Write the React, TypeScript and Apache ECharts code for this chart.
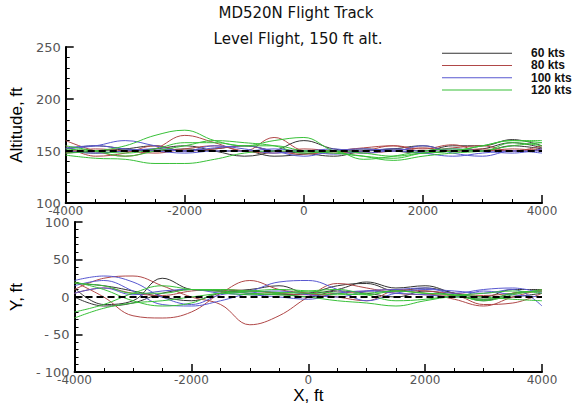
import React, { useEffect, useRef } from "react";
import * as echarts from "echarts";

const X_POS = [-4000, -3500, -3000, -2500, -2000, -1500, -1000, -500, 0, 500, 1000, 1500, 2000, 2500, 3000, 3500, 4000];
const SPEEDS = ["60 kts", "80 kts", "100 kts", "120 kts"];
const COLORS = ["#333333", "#b04848", "#5858d0", "#38c038"];
const X_TICKS = [-4000, -2000, 0, 2000, 4000];

// Altitude runs (ft) per speed
const ALT_60 = [
  [150, 148, 150, 152, 155, 150, 145, 150, 160, 152, 150, 152, 150, 155, 155, 161, 155],
  [152, 155, 152, 150, 152, 150, 150, 145, 147, 150, 152, 150, 148, 150, 152, 158, 153],
  [148, 150, 152, 155, 150, 152, 155, 150, 148, 145, 150, 152, 155, 150, 150, 155, 152],
];
const ALT_80 = [
  [160, 150, 145, 152, 165, 158, 150, 163, 150, 148, 150, 155, 150, 153, 155, 150, 155],
  [155, 145, 148, 155, 150, 152, 155, 150, 147, 150, 153, 155, 152, 156, 150, 152, 150],
  [148, 152, 150, 148, 152, 155, 150, 148, 152, 150, 148, 150, 153, 150, 152, 150, 152],
];
const ALT_100 = [
  [152, 155, 160, 155, 150, 153, 155, 150, 145, 150, 152, 150, 155, 148, 145, 150, 150],
  [150, 148, 150, 152, 150, 155, 152, 148, 150, 147, 150, 152, 150, 152, 150, 148, 152],
  [153, 155, 152, 150, 148, 150, 150, 152, 150, 152, 148, 150, 148, 145, 148, 150, 148],
];
const ALT_120 = [
  [148, 150, 155, 165, 170, 160, 155, 155, 150, 148, 145, 143, 148, 150, 155, 160, 158],
  [146, 143, 142, 138, 138, 142, 148, 150, 150, 150, 148, 145, 148, 150, 155, 160, 160],
  [152, 150, 148, 152, 158, 158, 155, 160, 163, 150, 145, 141, 145, 148, 150, 155, 158],
  [155, 150, 145, 150, 155, 160, 158, 155, 148, 150, 142, 145, 150, 152, 150, 158, 155],
];
const ALT_TARGET = 150;

// Lateral offset runs (ft) per speed
const Y_60 = [
  [12, -10, -5, 25, 10, 8, 5, 3, 5, 15, 18, 8, 12, 5, -5, 5, 8],
  [0, -12, -8, 5, 10, 8, 10, 15, 5, 10, 20, 12, 15, 5, 0, 10, 10],
  [18, 15, 8, 0, -5, 5, 8, 5, 0, 8, 5, 0, 8, 2, -3, 0, 5],
];
const Y_80 = [
  [10, 25, 28, 15, 0, -10, -37, -25, 0, 18, 12, 5, 3, 2, -10, -8, 5],
  [20, 0, -25, -28, -20, 5, 22, 10, 5, 0, -5, 8, 5, -3, -12, 0, 10],
  [5, 12, 5, 2, 8, 10, 8, 5, 3, 5, 8, 10, 8, 5, 2, 5, 8],
];
const Y_100 = [
  [22, 28, 20, 0, -10, 3, 8, 20, 22, 10, -5, 5, 10, 8, 5, 10, -12],
  [15, 22, 8, -10, -12, -5, 5, 8, 3, 0, 8, 10, 12, 5, 10, 12, 5],
  [5, 12, 3, 8, 10, 5, 3, 0, -3, 5, 8, 5, 3, 0, 8, 3, 0],
];
const Y_120 = [
  [-28, -15, -8, -5, 0, 5, 8, 10, 8, 5, 3, 8, 5, 3, 0, -3, -5],
  [-20, -10, 5, 15, 10, 8, 5, 3, 0, -5, -8, -12, -5, 0, -3, 5, 8],
  [18, 15, 5, 5, 10, 10, 8, 6, 5, 3, 5, 8, 5, 3, -5, 3, 10],
  [20, 10, -5, -12, -8, 5, 3, 5, 8, 10, 3, -5, -3, 2, 5, 8, 5],
];
const Y_TARGET = 0;

const ALT_RUNS = [ALT_60, ALT_80, ALT_100, ALT_120];
const Y_RUNS = [Y_60, Y_80, Y_100, Y_120];

const FONT = "Liberation Sans, Arial, sans-serif";
const WIDE = "DejaVu Sans, sans-serif";

function runSeries(runsBySpeed: number[][][], grid: number) {
  const out: any[] = [];
  runsBySpeed.forEach((runs, si) => {
    runs.forEach((ys) => {
      out.push({
        type: "line",
        name: SPEEDS[si],
        xAxisIndex: grid,
        yAxisIndex: grid,
        smooth: 0.4,
        showSymbol: false,
        symbol: "none",
        lineStyle: { color: COLORS[si], width: 1 },
        itemStyle: { color: COLORS[si] },
        data: X_POS.map((x, i) => [x, ys[i]]),
        z: 2,
      });
    });
  });
  return out;
}

function targetSeries(value: number, grid: number) {
  return {
    type: "line",
    name: "target" + grid,
    xAxisIndex: grid,
    yAxisIndex: grid,
    showSymbol: false,
    symbol: "none",
    lineStyle: { color: "#000", width: 2, type: [7, 4] },
    data: [X_TICKS[0], X_TICKS[X_TICKS.length - 1]].map((x) => [x, value]),
    z: 3,
  };
}

function xAxis(grid: number, withName: boolean) {
  return {
    type: "value",
    gridIndex: grid,
    min: X_TICKS[0],
    max: X_TICKS[X_TICKS.length - 1],
    interval: 2000,
    name: withName ? "X, ft" : "",
    nameLocation: "middle",
    nameGap: 15,
    nameTextStyle: { fontFamily: FONT, fontSize: 17, color: "#000" },
    axisLine: { show: true, onZero: false, lineStyle: { color: "#000", width: 2 } },
    axisTick: { show: true, inside: true, length: 8, lineStyle: { color: "#000", width: 1.5 } },
    minorTick: { show: true, splitNumber: 4, length: 4, lineStyle: { color: "#000", width: 1 } },
    splitLine: { show: false },
    axisLabel: {
      color: "#555",
      fontFamily: WIDE,
      fontSize: 12,
      margin: 2,
      formatter: (v: number) => String(v),
    },
  };
}

function yAxis(grid: number, min: number, max: number, name: string) {
  return {
    type: "value",
    gridIndex: grid,
    min,
    max,
    interval: 50,
    name,
    nameLocation: "middle",
    nameGap: 33,
    nameTextStyle: { fontFamily: FONT, fontSize: 17, color: "#000" },
    axisLine: { show: true, onZero: false, lineStyle: { color: "#000", width: 2 } },
    axisTick: { show: true, inside: true, length: 8, lineStyle: { color: "#000", width: 1.5 } },
    minorTick: { show: true, splitNumber: 5, length: 4, lineStyle: { color: "#000", width: 1 } },
    splitLine: { show: false },
    axisLabel: {
      color: "#555",
      fontFamily: WIDE,
      fontSize: 13,
      margin: 5,
      formatter: (v: number) => (v < 0 ? "- " + String(-v) : String(v)),
    },
  };
}

export default function App() {
  const ref = useRef<HTMLDivElement>(null);
  useEffect(() => {
    if (!ref.current) return;
    const chart = echarts.init(ref.current, undefined, { renderer: "svg" });
    chart.setOption({
      animation: false,
      backgroundColor: "#fff",
      graphic: [
        {
          type: "text",
          x: 296,
          y: 5,
          style: { text: "MD520N Flight Track", font: `15px ${WIDE}`, fill: "#111", textAlign: "center" },
        },
        {
          type: "text",
          x: 298,
          y: 31,
          style: { text: "Level Flight, 150 ft alt.", font: `15px ${WIDE}`, fill: "#111", textAlign: "center" },
        },
      ],
      legend: {
        data: SPEEDS,
        orient: "vertical",
        left: 437,
        top: 42,
        icon: "rect",
        itemWidth: 70,
        itemHeight: 1,
        itemGap: 0,
        textStyle: {
          fontFamily: FONT,
          fontSize: 12,
          fontWeight: "bold",
          color: "#111",
          lineHeight: 12.3,
          padding: [0, 0, 0, 14],
        },
        selectedMode: false,
      },
      grid: [
        { left: 62, right: 31, top: 47, height: 156 },
        { left: 62, right: 31, top: 222, height: 151 },
      ],
      xAxis: [xAxis(0, false), xAxis(1, true)],
      yAxis: [yAxis(0, 100, 250, "Altitude, ft"), yAxis(1, -100, 100, "Y, ft")],
      series: [
        ...runSeries(ALT_RUNS, 0),
        targetSeries(ALT_TARGET, 0),
        ...runSeries(Y_RUNS, 1),
        targetSeries(Y_TARGET, 1),
      ],
    });
    return () => chart.dispose();
  }, []);
  return <div ref={ref} style={{ width: 573, height: 405, position: "absolute", left: 0, top: 0 }} />;
}
